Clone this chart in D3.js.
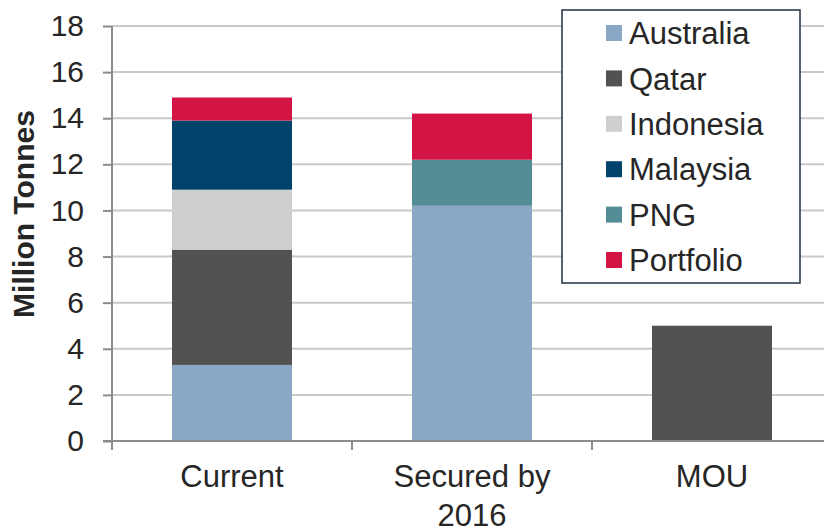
<!DOCTYPE html>
<html>
<head>
<meta charset="utf-8">
<script src="https://cdn.jsdelivr.net/npm/d3@7"></script>
<style>
  html, body { margin: 0; padding: 0; background: #fff; }
  svg { display: block; font-family: "Liberation Sans", Arial, sans-serif; }
</style>
</head>
<body>
<svg id="chart" width="824" height="531"></svg>
<script>
const categories = ["Current", "Secured by 2016", "MOU"];
const categoryLines = [["Current"], ["Secured by", "2016"], ["MOU"]];
const seriesNames = ["Australia", "Qatar", "Indonesia", "Malaysia", "PNG", "Portfolio"];
const australia = [3.3, 10.2, 0];
const qatar     = [5.0, 0, 5.0];
const indonesia = [2.6, 0, 0];
const malaysia  = [3.0, 0, 0];
const png       = [0, 2.0, 0];
const portfolio = [1.0, 2.0, 0];
const seriesColors = ["#8aa8c5", "#525252", "#cfcfcf", "#00436a", "#548c96", "#d31445"];
const yTicks = [0, 2, 4, 6, 8, 10, 12, 14, 16, 18];

(function () {
const seriesValues = [australia, qatar, indonesia, malaysia, png, portfolio];
const table = categories.map((c, i) => {
  const row = { cat: c };
  seriesNames.forEach((s, j) => row[s] = seriesValues[j][i]);
  return row;
});

const svg = d3.select("#chart");
const pLeft = 112, pRight = 832, pTop = 26, pBottom = 441;

const x = d3.scaleBand().domain(categories).range([pLeft, pRight]).paddingInner(0.5).paddingOuter(0.25);
const y = d3.scaleLinear().domain([0, 18]).range([pBottom, pTop]);
const color = d3.scaleOrdinal().domain(seriesNames).range(seriesColors);

// gridlines
svg.append("g").selectAll("line").data(yTicks.filter(d => d > 0)).join("line")
  .attr("x1", pLeft).attr("x2", 824)
  .attr("y1", d => y(d)).attr("y2", d => y(d))
  .attr("stroke", "#c9c9c9").attr("stroke-width", 2);

// stacked bars
const stack = d3.stack().keys(seriesNames)(table);
svg.append("g").selectAll("g").data(stack).join("g")
  .attr("fill", d => color(d.key))
  .selectAll("rect").data(d => d.filter(p => p[1] - p[0] > 0)).join("rect")
  .attr("x", d => x(d.data.cat))
  .attr("width", x.bandwidth())
  .attr("y", d => y(d[1]))
  .attr("height", d => y(d[0]) - y(d[1]));

// y axis
const yAxis = svg.append("g").attr("transform", `translate(${pLeft},0)`)
  .call(d3.axisLeft(y).tickValues(yTicks).tickSize(9).tickPadding(19).tickFormat(d3.format("d")));
yAxis.select(".domain").attr("d", `M0,${pTop}V${pBottom + 9}`).attr("stroke", "#8c8c8c").attr("stroke-width", 2);
yAxis.selectAll(".tick line").attr("stroke", "#8c8c8c").attr("stroke-width", 2);
yAxis.selectAll(".tick text").attr("font-size", 30).attr("fill", "#262626")
  .attr("font-family", "Liberation Sans, Arial, sans-serif");

// x axis
const xAxis = svg.append("g").attr("transform", `translate(0,${pBottom})`);
xAxis.append("line").attr("x1", pLeft - 9).attr("x2", 824).attr("y1", 0).attr("y2", 0)
  .attr("stroke", "#8c8c8c").attr("stroke-width", 2);
const step = x.step();
const tickXs = [pLeft].concat(categories.slice(1).map(c => x(c) - (step - x.bandwidth()) / 2)).concat([pRight]);
xAxis.selectAll("line.tk").data(tickXs).join("line").attr("class", "tk")
  .attr("x1", d => d).attr("x2", d => d).attr("y1", 0).attr("y2", 9)
  .attr("stroke", "#8c8c8c").attr("stroke-width", 2);
const labels = xAxis.selectAll("text").data(categories).join("text")
  .attr("x", d => x(d) + x.bandwidth() / 2)
  .attr("text-anchor", "middle").attr("font-size", 31).attr("fill", "#262626");
labels.each(function(d, i) {
  d3.select(this).selectAll("tspan").data(categoryLines[i]).join("tspan")
    .attr("x", x(d) + x.bandwidth() / 2)
    .attr("y", (t, k) => 46 + k * 39)
    .text(t => t);
});

// y title
svg.append("text")
  .attr("transform", `translate(34,${(105 + 323) / 2}) rotate(-90)`)
  .attr("text-anchor", "middle")
  .attr("font-size", 30).attr("font-weight", "bold").attr("fill", "#262626")
  .text("Million Tonnes");

// legend
const lg = svg.append("g");
lg.append("rect").attr("x", 562).attr("y", 10).attr("width", 238).attr("height", 273)
  .attr("fill", "#fff").attr("stroke", "#2d3c4e").attr("stroke-width", 1.6);
const items = lg.selectAll("g.item").data(seriesNames).join("g").attr("class", "item")
  .attr("transform", (d, i) => `translate(0,${33 + i * 45.4})`);
items.append("rect").attr("x", 606).attr("y", -8).attr("width", 16).attr("height", 16)
  .attr("fill", d => color(d));
items.append("text").attr("x", 629).attr("y", 0).attr("dy", "0.36em")
  .attr("font-size", 31).attr("fill", "#262626").text(d => d);
})();
</script>
</body>
</html>
